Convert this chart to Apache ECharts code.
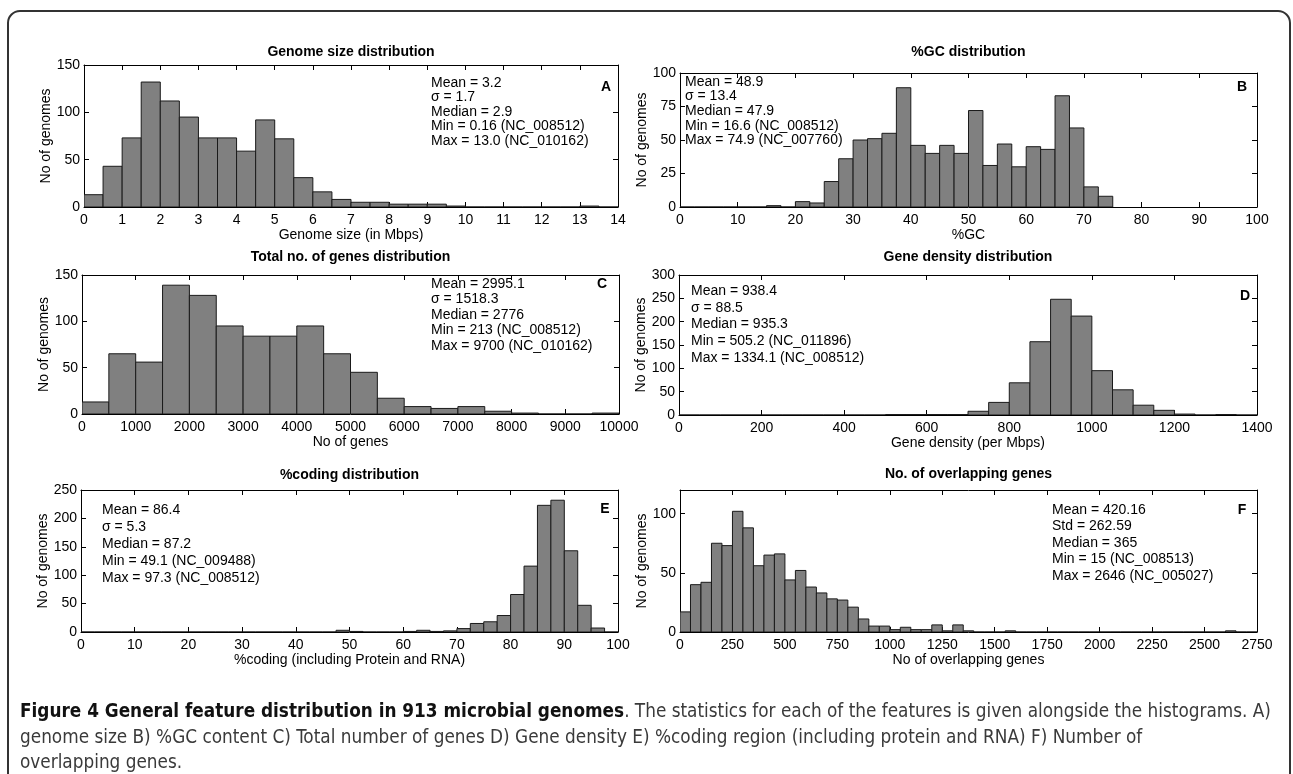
<!DOCTYPE html>
<html><head><meta charset="utf-8">
<script src="https://cdn.jsdelivr.net/npm/echarts@6/dist/echarts.min.js"></script>
<style>html,body{margin:0;padding:0;background:#fff}#c{width:1293px;height:774px}</style>
</head><body><div id="c"></div>
<script>
// ---------- DATA ----------
// A: Genome size (Mbps), bins of 0.5 starting at 0
const genomeSizeBinWidth = 0.5;
const genomeSizeCounts = [13,43,73,132,112,95,73,73,59,92,72,31,16,8,5,5,3,3,3,1,0,0,0,0,0,0,1,0];
const genomeSizeStats = ['Mean = 3.2','σ = 1.7','Median = 2.9','Min = 0.16 (NC_008512)','Max = 13.0 (NC_010162)'];
// B: %GC, bins of 2.5 starting at 0
const gcBinWidth = 2.5;
const gcCounts = [0,0,0,0,0,0,1,0,4,3,19,36,50,51,55,89,46,40,46,40,72,31,47,30,45,43,83,59,15,8];
const gcStats = ['Mean = 48.9','σ = 13.4','Median = 47.9','Min = 16.6 (NC_008512)','Max = 74.9 (NC_007760)'];
// C: Total no. of genes, bins of 500 starting at 0
const geneCountBinWidth = 500;
const geneCountCounts = [13,65,56,139,128,95,84,84,95,65,45,17,8,6,8,3,1,0,0,1];
const geneCountStats = ['Mean = 2995.1','σ = 1518.3','Median = 2776','Min = 213 (NC_008512)','Max = 9700 (NC_010162)'];
// D: Gene density (per Mbps), bins of 50 starting at 0
const densityBinWidth = 50;
const densityCounts = [0,0,0,0,0,0,0,0,0,0,1,1,1,1,8,27,69,157,248,212,95,54,21,10,2,0,1,0];
const densityStats = ['Mean = 938.4','σ = 88.5','Median = 935.3','Min = 505.2 (NC_011896)','Max = 1334.1 (NC_008512)'];
// E: %coding, bins of 2.5 starting at 0
const codingBinWidth = 2.5;
const codingCounts = [0,0,0,0,0,0,0,0,0,0,0,0,0,0,0,0,0,0,0,3,1,0,0,0,1,3,1,2,6,15,18,29,66,116,223,232,143,47,7,0];
const codingStats = ['Mean = 86.4','σ = 5.3','Median = 87.2','Min = 49.1 (NC_009488)','Max = 97.3 (NC_008512)'];
// F: No. of overlapping genes, bins of 50 starting at 0
const overlapBinWidth = 50;
const overlapCounts = [17,40,42,75,73,102,88,56,65,66,44,52,38,33,28,27,21,11,5,5,2,4,2,2,6,1,6,1,0,0,0,1,0,0,0,0,0,0,0,0,0,0,0,0,0,0,0,0,0,0,0,0,1,0,0];
const overlapStats = ['Mean = 420.16','Std = 262.59','Median = 365','Min = 15 (NC_008513)','Max = 2646 (NC_005027)'];

const panelTitles = ['Genome size distribution','%GC distribution','Total no. of genes distribution','Gene density distribution','%coding distribution','No. of overlapping genes'];
const xNames = ['Genome size (in Mbps)','%GC','No of genes','Gene density (per Mbps)','%coding (including Protein and RNA)','No of overlapping genes'];
const panelLetters = ['A','B','C','D','E','F'];
const yName = 'No of genomes';
// axis ranges / tick intervals
const xMaxes = [14,100,10000,1400,100,2750];
const xIntervals = [1,10,1000,200,10,250];
const yMaxes = [150,100,150,300,250,120];
const yIntervals = [50,25,50,50,50,50];

const captionBold = 'Figure 4 General feature distribution in 913 microbial genomes';
const captionLine1 = '. The statistics for each of the features is given alongside the histograms. A)';
const captionLine2 = 'genome size B) %GC content C) Total number of genes D) Gene density E) %coding region (including protein and RNA) F) Number of';
const captionLine3 = 'overlapping genes.';

// ---------- LAYOUT ----------
const binWidths = [genomeSizeBinWidth,gcBinWidth,geneCountBinWidth,densityBinWidth,codingBinWidth,overlapBinWidth];
const countSets = [genomeSizeCounts,gcCounts,geneCountCounts,densityCounts,codingCounts,overlapCounts];
const statSets = [genomeSizeStats,gcStats,geneCountStats,densityStats,codingStats,overlapStats];
const grids = [
  {left:84, top:65, width:534, height:142},
  {left:680, top:73, width:577, height:134},
  {left:82, top:275, width:537, height:139},
  {left:679, top:275, width:578, height:140},
  {left:81, top:490, width:537, height:142},
  {left:680, top:490, width:577, height:142}
];
const titleY = [52,52,257,257,475,474];
const xNameGaps = [19,19,17,19,21,20];
const statPos = [
  {x:431, y:83, dy:14.5},
  {x:685, y:82, dy:14.6},
  {x:431, y:284, dy:15.5},
  {x:691, y:291, dy:16.7},
  {x:102, y:510, dy:17},
  {x:1052, y:510, dy:16.5}
];
const letterPos = [[606,87],[1242,87],[602,284],[1245,296],[605,509],[1242,510]];
const FONT = 'Liberation Sans, Arial, Helvetica, sans-serif';

const chart = echarts.init(document.getElementById('c'), null, {renderer:'canvas'});

const xAxes = [], yAxes = [], series = [], graphic = [];
function axisCommon(){
  return {
    type:'value', min:0,
    axisLine:{show:true, onZero:false, lineStyle:{color:'#000', width:1}},
    axisTick:{show:true, inside:true, length:5, lineStyle:{color:'#000', width:1}},
    splitLine:{show:false},
    axisLabel:{color:'#000', fontSize:14, fontFamily:FONT, formatter:(v) => String(v)}
  };
}
function renderBar(params, api){
  const x0 = api.value(0), x1 = api.value(1), y = api.value(2);
  const p0 = api.coord([x0, y]);
  const p1 = api.coord([x1, 0]);
  return {type:'rect', shape:{x:p0[0], y:p0[1], width:p1[0]-p0[0], height:p1[1]-p0[1]},
    style:{fill:'#808080', stroke:'#1a1a1a', lineWidth:1}};
}
grids.forEach((g, i) => {
  const xb = Object.assign(axisCommon(), {gridIndex:i, position:'bottom', max:xMaxes[i], interval:xIntervals[i],
    name:xNames[i], nameLocation:'middle', nameGap:xNameGaps[i], nameTextStyle:{color:'#000', fontSize:14, fontFamily:FONT}});
  xb.axisLabel.margin = 6;
  const xt = Object.assign(axisCommon(), {gridIndex:i, position:'top', max:xMaxes[i], interval:xIntervals[i]});
  xt.axisLabel = {show:false};
  const yl = Object.assign(axisCommon(), {gridIndex:i, position:'left', max:yMaxes[i], interval:yIntervals[i],
    name:yName, nameLocation:'middle', nameGap:30, nameTextStyle:{color:'#000', fontSize:14, fontFamily:FONT}});
  yl.axisLabel.margin = 4;
  yl.axisLabel.showMaxLabel = (yMaxes[i] % yIntervals[i] === 0);
  const yr = Object.assign(axisCommon(), {gridIndex:i, position:'right', max:yMaxes[i], interval:yIntervals[i]});
  yr.axisLabel = {show:false};
  xAxes.push(xb, xt); yAxes.push(yl, yr);
  const w = binWidths[i];
  const data = countSets[i].map((c, k) => [k*w, (k+1)*w, c]);
  series.push({type:'custom', xAxisIndex:2*i, yAxisIndex:2*i, renderItem:renderBar, data:data, clip:true,
    encode:{x:[0,1], y:2}, silent:true});
  graphic.push({type:'text', x:g.left + g.width/2, y:titleY[i], style:{text:panelTitles[i], fill:'#000',
    font:'bold 14px ' + FONT, textAlign:'center', textVerticalAlign:'middle'}});
  const sp = statPos[i];
  statSets[i].forEach((s, k) => {
    graphic.push({type:'text', x:sp.x, y:sp.y + k*sp.dy, style:{text:s, fill:'#000', font:'14px ' + FONT,
      textAlign:'left', textVerticalAlign:'middle'}});
  });
  graphic.push({type:'text', x:letterPos[i][0], y:letterPos[i][1], style:{text:panelLetters[i], fill:'#000',
    font:'bold 14px ' + FONT, textAlign:'center', textVerticalAlign:'middle'}});
});
// frame
graphic.push({type:'rect', shape:{x:8, y:11, width:1282, height:900, r:12}, style:{fill:'none', stroke:'#333', lineWidth:2}});
// caption
const CAP = '"DejaVu Sans Condensed", "Liberation Sans Narrow", sans-serif';
graphic.push({type:'text', x:20, y:712, style:{text:'{b|' + captionBold + '}{n|' + captionLine1 + '}',
  textVerticalAlign:'middle', rich:{b:{font:'bold 18.8px ' + CAP, fill:'#111'}, n:{font:'18.8px ' + CAP, fill:'#3a3a3a'}}}});
graphic.push({type:'text', x:20, y:738, style:{text:captionLine2, font:'18.8px ' + CAP, fill:'#3a3a3a', textVerticalAlign:'middle'}});
graphic.push({type:'text', x:20, y:763, style:{text:captionLine3, font:'18.8px ' + CAP, fill:'#3a3a3a', textVerticalAlign:'middle'}});

chart.setOption({
  animation:false,
  backgroundColor:'#fff',
  grid: grids.map(g => Object.assign({containLabel:false}, g)),
  xAxis: xAxes, yAxis: yAxes, series: series, graphic: graphic
});
</script></body></html>
